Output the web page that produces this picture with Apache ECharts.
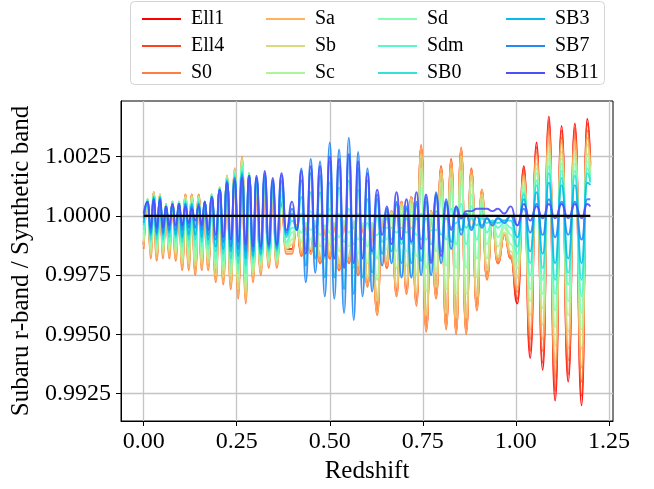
<!DOCTYPE html>
<html><head><meta charset="utf-8">
<script src="https://cdn.jsdelivr.net/npm/echarts@6.0.0/dist/echarts.min.js"></script>
<style>html,body{margin:0;padding:0;background:#fff}#c{width:654px;height:489px}</style>
</head><body><div id="c"></div>
<script>
// Redshift positions of the oscillation extrema (shared by all templates)
const redshift = [0,0.0108,0.0188,0.0269,0.0349,0.0438,0.0519,0.0599,0.0685,0.0772,0.0860,0.0949,0.1035,0.1121,0.1210,0.1290,0.1384,0.1478,0.1559,0.1640,0.1734,0.1828,0.1935,0.2043,0.2137,0.2239,0.2339,0.2446,0.2540,0.2642,0.2742,0.2831,0.2938,0.3030,0.3145,0.3253,0.3360,0.3468,0.3575,0.3702,0.3831,0.3987,0.4113,
0.4239,0.4355,0.4489,0.4610,0.4739,0.4866,0.5000,0.5121,0.5250,0.5384,0.5511,0.5645,0.5761,0.5879,0.6013,0.6137,0.6272,0.6406,0.6532,0.6659,0.6793,0.6927,0.7062,0.7191,0.7331,0.7454,0.7589,0.7723,0.7858,0.7992,0.8126,0.8261,0.8395,0.8530,0.8664,0.8804,0.8952,0.9086,0.9220,0.9368,0.9516,0.9691,0.9866,
1.0040,1.0215,1.0384,1.0556,1.0720,1.0887,1.1054,1.1228,1.1406,1.1586,1.1766,1.1917,1.2000];

// Ratio deviations from 1, in units of 1e-4
const ell1 = [-12,6,-15,9,-16,8,-15,5,-15,5,-16,5,-20,8,-20,8,-22,8,-20,5,-20,8,-24,11,-25,15,-27,18,-31,22,-32,16,-24,10,-22,9,-19,7,-19,5,-14,-14,-4,
-16,-4,-15,-3,-19,-6,-17,-4,-22,-3,-19,-3,-24,-5,-29,-4,-40,0,-21,2,-32,6,-31,8,-36,29,-47,2,-33,20,-46,23,-48,28,-48,19,-38,10,-26,-3,-19,-8,-17,
-37,21,-60,31,-65,42,-78,38,-70,39,-80,41,22];
const ell4 = [-12,7,-16,10,-17,9,-16,5,-16,6,-17,6,-21,9,-21,9,-23,9,-21,6,-21,9,-26,11,-27,16,-29,19,-32,24,-34,17,-26,10,-23,10,-20,8,-20,6,-14,-14,-4,
-17,-4,-16,-3,-20,-6,-18,-4,-23,-3,-20,-3,-25,-5,-29,-4,-41,0,-22,2,-33,6,-32,8,-37,29,-48,2,-34,21,-47,24,-49,28,-49,20,-39,11,-26,-3,-20,-8,-18,
-35,20,-57,29,-62,40,-74,36,-67,37,-76,39,21];
const s0 = [-14,7,-18,10,-19,9,-18,5,-18,6,-19,6,-23,9,-23,9,-25,9,-23,6,-23,9,-28,12,-29,17,-31,20,-35,25,-37,18,-28,11,-25,10,-22,8,-22,6,-16,-16,-4,
-17,-4,-16,-3,-20,-6,-18,-4,-23,-3,-20,-3,-25,-5,-30,-4,-42,0,-22,2,-34,6,-33,8,-38,30,-49,2,-35,21,-48,24,-50,29,-50,20,-40,11,-27,-3,-20,-8,-18,
-32,18,-52,27,-57,37,-68,33,-61,34,-70,36,20];
const sa = [-13,7,-17,10,-18,9,-17,5,-17,6,-18,6,-22,9,-22,9,-24,9,-22,6,-22,9,-27,12,-28,17,-30,20,-34,25,-36,18,-27,11,-24,10,-21,8,-21,6,-15,-15,-4,
-16,-4,-16,-3,-19,-6,-17,-4,-22,-3,-19,-3,-24,-5,-29,-4,-41,0,-21,2,-33,6,-32,8,-37,29,-48,2,-34,20,-47,23,-49,28,-49,19,-39,11,-26,-3,-19,-8,-17,
-30,17,-48,25,-52,34,-62,31,-56,32,-64,33,19];
const sb = [-11,7,-16,10,-16,9,-16,5,-15,6,-16,6,-20,8,-20,8,-21,8,-20,6,-20,9,-25,12,-26,17,-28,19,-31,24,-33,18,-25,12,-23,11,-20,9,-20,8,-14,-12,-4,
-14,-3,-14,-3,-17,-5,-15,-3,-20,-3,-17,-3,-21,-4,-26,-3,-36,0,-19,2,-29,5,-28,7,-32,26,-42,2,-30,18,-41,20,-43,25,-43,17,-34,9,-23,-3,-17,-7,-15,
-26,15,-42,22,-46,30,-55,27,-49,28,-56,30,18];
const sc = [-10,7,-14,9,-15,9,-14,5,-14,6,-15,6,-18,8,-17,8,-19,8,-18,6,-18,9,-22,12,-23,16,-25,19,-28,23,-30,18,-24,13,-21,12,-19,10,-19,9,-13,-10,-5,
-11,-3,-10,-2,-13,-4,-12,-3,-15,-2,-13,-2,-16,-3,-20,-3,-27,0,-14,1,-22,4,-21,5,-25,20,-32,1,-23,14,-31,16,-33,19,-33,13,-26,7,-18,-2,-13,-5,-12,
-22,13,-36,20,-39,27,-47,24,-42,25,-48,26,17];
const sd = [-8,7,-13,9,-13,8,-13,5,-12,6,-13,6,-15,7,-15,7,-16,7,-15,6,-16,9,-20,12,-21,16,-23,18,-25,22,-27,18,-22,13,-20,13,-18,11,-18,11,-12,-7,-5,
-7,-3,-6,-3,-8,-4,-7,-4,-9,-3,-7,-4,-10,-4,-13,-3,-18,-1,-10,0,-15,1,-15,2,-17,12,-22,0,-15,8,-21,10,-22,13,-22,9,-18,5,-12,-2,-9,-4,-8,
-19,12,-31,18,-33,24,-40,22,-36,22,-41,23,16];
const sdm = [-6,7,-11,9,-12,8,-11,5,-11,6,-11,6,-13,7,-13,6,-13,7,-13,6,-14,9,-18,12,-19,16,-20,18,-23,21,-24,18,-20,14,-19,15,-17,12,-17,12,-11,-5,-5,
1,-8,2,-7,1,-10,3,-10,1,-11,3,-12,1,-10,-3,-9,-8,-5,-5,-5,-7,-5,-7,-5,-8,1,-10,-6,-6,0,-10,3,-12,5,-12,4,-10,2,-7,-2,-5,-3,-5,
-16,10,-25,15,-27,21,-33,19,-29,19,-34,20,15];
const sb0 = [-4,6,-10,8,-10,8,-10,4,-9,5,-9,5,-11,6,-10,5,-10,6,-11,6,-12,8,-15,11,-16,15,-18,17,-20,19,-21,17,-18,15,-17,16,-15,13,-15,14,-9,-2,-5,
8,-14,10,-12,10,-18,14,-18,12,-21,15,-22,11,-18,7,-16,0,-11,-1,-10,0,-12,-1,-12,-1,-10,-1,-12,2,-8,-1,-5,-3,-1,-5,-1,-4,-1,-3,-2,-3,-2,-2,
-13,9,-20,13,-22,18,-27,16,-24,17,-27,18,14];
const sb3 = [-3,6,-8,8,-8,8,-8,4,-7,5,-8,5,-9,5,-8,5,-8,5,-9,6,-10,8,-13,11,-14,15,-15,16,-17,18,-18,17,-17,16,-16,17,-14,14,-14,15,-8,1,-6,
15,-21,18,-18,17,-26,23,-26,21,-31,25,-33,20,-26,15,-24,7,-16,2,-15,5,-20,3,-20,5,-19,6,-19,8,-15,5,-11,3,-6,1,-5,0,-4,-1,-3,-1,-2,0,
-9,7,-15,10,-16,14,-20,13,-18,13,-20,14,13];
const sb7 = [-1,6,-7,7,-7,7,-7,4,-6,5,-6,5,-6,5,-5,4,-5,5,-6,6,-8,8,-10,11,-11,14,-13,16,-14,17,-15,17,-15,16,-14,18,-13,15,-13,17,-7,3,-6,
20,-28,24,-24,23,-34,31,-35,28,-41,33,-44,27,-34,20,-32,9,-21,3,-20,6,-26,4,-26,6,-25,8,-25,10,-20,7,-14,4,-8,1,-6,0,-5,-1,-4,-1,-3,0,
-4,3,-7,5,-8,7,-9,6,-8,6,-10,7,7];
const sb11 = [1,6,-5,7,-5,7,-5,4,-4,5,-4,5,-4,4,-3,3,-2,4,-4,6,-6,8,-8,11,-9,14,-10,15,-11,16,-12,17,-13,17,-13,19,-12,16,-12,18,-6,6,-6,
19,-16,21,-13,21,-17,25,-18,24,-22,26,-20,23,-18,18,-15,11,-8,4,-12,10,-10,7,-11,10,-14,9,-20,9,-17,6,-6,4,-1,2,2,3,3,3,2,3,1,4,
-4,5,-2,4,-1,5,-1,5,-1,5,-1,5,4];

const seriesNames = ['Ell1','Ell4','S0','Sa','Sb','Sc','Sd','Sdm','SB0','SB3','SB7','SB11'];
const seriesDev = [ell1,ell4,s0,sa,sb,sc,sd,sdm,sb0,sb3,sb7,sb11];
const seriesColors = ['#ff0000','#ff4121','#ff7d41','#ffb260','#d8da7d','#aef599','#84ffb2','#5af8c8','#31e1da','#07bcea','#238af5','#4d4ffc'];
const xTicks = [0, 0.25, 0.5, 0.75, 1.0, 1.25];
const yTicks = [0.9925, 0.995, 0.9975, 1.0, 1.0025];
const refZ = [0, 1.2];
const refRatio = [1, 1];

seriesDev.forEach((a, i) => { if (a.length !== redshift.length) throw new Error(seriesNames[i] + ' length ' + a.length + ' vs ' + redshift.length); });

const FONT = '"Liberation Serif", "DejaVu Serif", serif';
const chart = echarts.init(document.getElementById('c'), null, {renderer: 'canvas'});

const series = seriesNames.map((name, i) => ({
  name, type: 'line', showSymbol: false, symbol: 'none', smooth: 0.55, smoothMonotone: 'x',
  data: redshift.map((z, j) => [z, 1 + seriesDev[i][j] / 1e4]),
  lineStyle: {color: seriesColors[i], width: 1.9, opacity: 0.9},
  itemStyle: {color: seriesColors[i]},
  emphasis: {disabled: true}, z: 2
}));
series.push({
  name: 'ref', type: 'line', symbol: 'none', data: refZ.map((z, j) => [z, refRatio[j]]),
  lineStyle: {color: '#000', width: 2.4}, itemStyle: {color: '#000'}, z: 3, emphasis: {disabled: true}
});

const legendLeft = [137, 261, 373, 501];
const legends = [0,1,2,3].map(k => ({
  orient: 'vertical', left: legendLeft[k], top: 4, itemWidth: 39, itemHeight: 2, itemGap: 7,
  icon: 'rect', selectedMode: false, data: seriesNames.slice(3*k, 3*k+3),
  textStyle: {fontFamily: FONT, fontSize: 20, lineHeight: 20, color: '#000', padding: [0,0,0,5]}
}));

chart.setOption({
  animation: false,
  backgroundColor: '#fff',
  graphic: [{type: 'rect', left: 130, top: 1, z: -1, shape: {width: 474, height: 83, r: 4},
    style: {fill: 'rgba(255,255,255,0.8)', stroke: '#d4d4d4', lineWidth: 1}}],
  legend: legends,
  grid: {left: 121, top: 101, width: 492, height: 320, show: true, borderColor: '#000', borderWidth: 1, backgroundColor: 'transparent'},
  xAxis: {
    type: 'value', min: -0.061, max: 1.261,
    name: 'Redshift', nameLocation: 'middle', nameGap: 36,
    nameTextStyle: {fontFamily: FONT, fontSize: 25, color: '#000'},
    axisLine: {show: true, onZero: false, lineStyle: {color: '#000', width: 1}},
    axisTick: {show: true, inside: false, length: 5, lineStyle: {color: '#000', width: 1}, customValues: xTicks},
    axisLabel: {fontFamily: FONT, fontSize: 24, color: '#000', margin: 9, customValues: xTicks, formatter: v => v.toFixed(2)},
    splitLine: {show: true, lineStyle: {color: '#c4c4c4', width: 1.3}}
  },
  yAxis: {
    type: 'value', min: 0.99134, max: 1.00485,
    name: 'Subaru r-band / Synthetic band', nameLocation: 'middle', nameGap: 87,
    nameTextStyle: {fontFamily: FONT, fontSize: 25, color: '#000'},
    axisLine: {show: true, onZero: false, lineStyle: {color: '#000', width: 1}},
    axisTick: {show: true, inside: false, length: 5, lineStyle: {color: '#000', width: 1}, customValues: yTicks},
    axisLabel: {fontFamily: FONT, fontSize: 24, color: '#000', margin: 10, customValues: yTicks, formatter: v => v.toFixed(4)},
    splitLine: {show: true, lineStyle: {color: '#c4c4c4', width: 1.3}}
  },
  series
});
</script></body></html>
